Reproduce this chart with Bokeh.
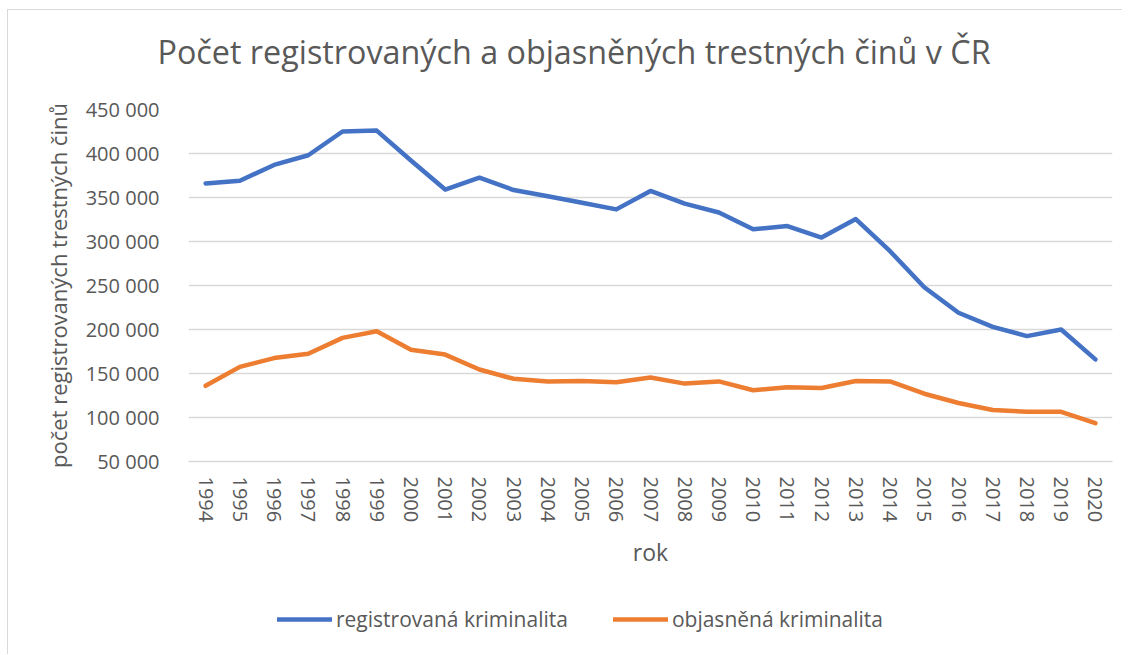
from bokeh.plotting import figure
from bokeh.layouts import column
from bokeh.models import (Range1d, FixedTicker, CustomJSTickFormatter, Legend, LegendItem)
from bokeh.embed import file_html
from bokeh.resources import INLINE

years = list(range(1994, 2021))
registrovana = [366000, 369000, 387000, 398000, 425000, 426000, 392000, 359000,
                372500, 358500, 351500, 344000, 336500, 357500, 343000, 333000,
                314000, 317500, 304500, 325500, 289000, 248000, 219000, 203000,
                192500, 200000, 166000]
objasnena = [136000, 157500, 167500, 172500, 190500, 198000, 177000, 171500,
             154500, 144000, 141000, 141500, 140000, 145500, 138500, 141000,
             131000, 134500, 133500, 141500, 141000, 127000, 116500, 108500,
             106500, 106500, 93500]
y_ticks = [50000, 100000, 150000, 200000, 250000, 300000, 350000, 400000, 450000]
series_names = ["registrovaná kriminalita", "objasněná kriminalita"]

TITLE = "Počet registrovaných a objasněných trestných činů v ČR"
FONT = "Open Sans"
TXT = "#595959"
GRID = "#d9d9d9"
BLUE = "#4472C4"
ORANGE = "#ED7D31"

# title strip
tf = figure(width=1114, height=84, output_backend="svg", toolbar_location=None,
            x_range=Range1d(0, 1), y_range=Range1d(0, 1),
            x_axis_type=None, y_axis_type=None, min_border=0)
tf.outline_line_color = None
tf.grid.visible = False
tf.border_fill_color = "white"
tf.title.text = TITLE
tf.title.text_font = FONT
tf.title.text_font_size = "32.3px"
tf.title.text_font_style = "normal"
tf.title.text_color = TXT
tf.title.align = "left"
tf.title.offset = -31
tf.title.vertical_align = "top"
tf.title.standoff = 37

# main chart
p = figure(width=1114, height=496, output_backend="svg", toolbar_location=None,
           x_range=Range1d(1993.5, 2020.5), y_range=Range1d(50000, 450000),
           min_border_left=180, min_border_right=10, min_border_top=15,
           min_border_bottom=129)
p.outline_line_color = None
p.background_fill_color = "white"
p.border_fill_color = "white"

p.line(years, registrovana, line_color=BLUE, line_width=4.5,
       line_join="round", line_cap="round")
p.line(years, objasnena, line_color=ORANGE, line_width=4.5,
       line_join="round", line_cap="round")

p.xgrid.visible = False
p.ygrid.grid_line_color = GRID
p.ygrid.grid_line_width = 1.5
p.ygrid.ticker = FixedTicker(ticks=y_ticks)

xa = p.below[0]
xa.ticker = FixedTicker(ticks=years)
xa.major_label_orientation = "vertical"
xa.major_tick_line_color = None
xa.minor_tick_line_color = None
xa.axis_line_color = GRID
xa.axis_line_width = 1.5
xa.major_label_standoff = 9
xa.major_label_text_font = FONT
xa.major_label_text_font_size = "20px"
xa.major_label_text_color = TXT
xa.axis_label = "rok"
xa.axis_label_text_font = FONT
xa.axis_label_text_font_size = "23px"
xa.axis_label_text_font_style = "normal"
xa.axis_label_text_color = TXT
xa.axis_label_standoff = 11

ya = p.left[0]
ya.ticker = FixedTicker(ticks=y_ticks)
ya.formatter = CustomJSTickFormatter(
    code=r"return tick.toFixed(0).replace(/\B(?=(\d{3})+(?!\d))/g, ' ');")
ya.major_tick_line_color = None
ya.minor_tick_line_color = None
ya.axis_line_color = None
ya.major_label_standoff = 23
ya.major_label_text_font = FONT
ya.major_label_text_font_size = "20px"
ya.major_label_text_color = TXT
ya.axis_label = "počet registrovaných trestných činů"
ya.axis_label_text_font = FONT
ya.axis_label_text_font_size = "22px"
ya.axis_label_text_font_style = "normal"
ya.axis_label_text_color = TXT
ya.axis_label_standoff = 10

# legend strip below the chart (lines lie outside its ranges, so only the legend shows)
lf = figure(width=1114, height=64, output_backend="svg", toolbar_location=None,
            x_range=Range1d(0, 1), y_range=Range1d(0, 1),
            x_axis_type=None, y_axis_type=None, min_border=0)
lf.outline_line_color = None
lf.grid.visible = False
lf.border_fill_color = "white"
r1 = lf.line(years, registrovana, line_color=BLUE, line_width=4.5, line_cap="round")
r2 = lf.line(years, objasnena, line_color=ORANGE, line_width=4.5, line_cap="round")
legend = Legend(items=[LegendItem(label=series_names[0], renderers=[r1]),
                       LegendItem(label=series_names[1], renderers=[r2])],
                location=(89, 21), orientation="horizontal",
                glyph_width=55, glyph_height=20, label_standoff=4, spacing=45,
                padding=0, margin=0, border_line_color=None,
                background_fill_alpha=0, label_text_font=FONT,
                label_text_font_size="21px", label_text_color=TXT)
lf.add_layout(legend)

layout = column(tf, p, lf, spacing=0,
                styles={"border-left": "1px solid #d9d9d9",
                        "border-top": "1px solid #d9d9d9",
                        "margin-left": "7px", "margin-top": "9px"})

open("out.html", "w").write(file_html(layout, INLINE))
